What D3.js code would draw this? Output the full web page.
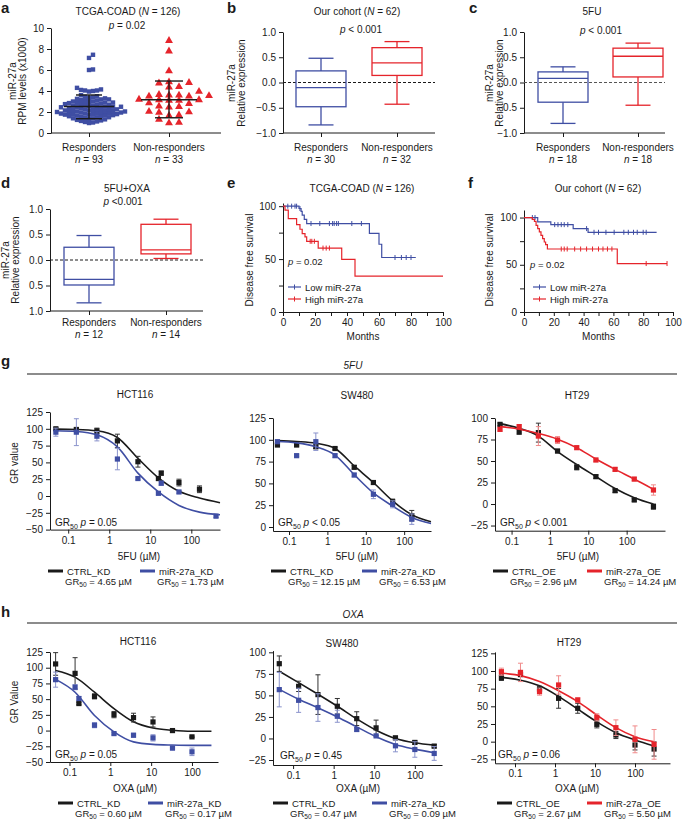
<!DOCTYPE html>
<html>
<head>
<meta charset="utf-8">
<script src="https://cdn.jsdelivr.net/npm/d3@7"></script>
<style>
  body { margin: 0; background: #fff; }
</style>
</head>
<body>
<div id="fig"></div>
<script>
const FONT = "'Liberation Sans', Arial, Helvetica, sans-serif";
const BLUE = "#3f4ea3", RED = "#e5242b", INK = "#1a1a1a";

// ---------- a: TCGA-COAD scatter ----------
const groups = ["Responders", "Non-responders"];
const aResp = [7.45, 7.15, 6.05, 6.0, 4.3, 4.15, 4.1, 4.05, 4.05, 4.0, 3.95,
  3.6, 3.5, 3.45, 3.4, 3.35, 3.3,
  3.25, 3.2, 3.2, 3.15, 3.1, 3.05, 3.0, 3.0, 2.95, 2.9, 2.9, 2.85, 2.85, 2.8,
  2.75, 2.75, 2.7, 2.7, 2.65, 2.6, 2.6, 2.55, 2.5, 2.5, 2.5, 2.45, 2.45, 2.4, 2.4, 2.35, 2.3, 2.3, 2.25, 2.25, 2.2, 2.2,
  2.15, 2.15, 2.1, 2.1, 2.05, 2.05, 2.0, 2.0, 2.0, 1.95, 1.95, 1.9, 1.9, 1.85, 1.85, 1.8, 1.8, 1.8, 1.75, 1.75, 1.7, 1.7,
  1.65, 1.6, 1.6, 1.55, 1.5, 1.5, 1.45, 1.4, 1.4, 1.35, 1.3, 1.25, 1.2, 1.15, 1.1, 1.05, 1.0, 0.95];
const aNonResp = [8.8, 7.8, 5.9, 4.85, 4.8, 4.75, 4.4, 4.35, 3.95, 3.65, 3.6, 3.6, 3.55, 3.5, 3.5,
  3.2, 3.15, 3.15, 3.1, 3.1, 2.85, 2.8, 2.55, 2.5, 2.45, 2.05, 2.0, 1.95, 1.7, 1.65, 1.3, 1.0, 0.95];
const aMean = [2.52, 3.17];
const aSdLow = [1.36, 1.45];
const aSdHigh = [3.62, 4.95];
const aN = [93, 33];

// ---------- b, c, d: box plots [min, q1, median, q3, max] ----------
const bBox = [[-0.84, -0.48, -0.10, 0.23, 0.48], [-0.43, 0.14, 0.39, 0.69, 0.81]];
const bN = [30, 32];
const cBox = [[-0.81, -0.39, 0.08, 0.21, 0.31], [-0.45, 0.11, 0.52, 0.68, 0.78]];
const cN = [18, 18];
const dBox = [[-0.84, -0.49, -0.38, 0.25, 0.48], [0.03, 0.12, 0.20, 0.70, 0.80]];
const dN = [12, 14];

// ---------- e, f: Kaplan-Meier steps [month, survival] + censor months ----------
const eLow = [[0, 100], [10, 97.8], [11.3, 95], [12, 91.5], [13.3, 87.5], [14.8, 83.6], [54, 74.3], [60, 64], [61.7, 51.5], [83, 51.5]];
const eLowCens = [3, 5.4, 7.5, 8.5, 10.6, 17.5, 23, 29, 31, 32, 33.5, 34.6, 43, 49, 70, 74, 77, 80];
const eHigh = [[0, 100], [1.25, 96.2], [3.3, 88.3], [8.5, 82.6], [10.6, 78.2], [12, 74], [13.75, 70.9], [14.8, 66.8], [22, 60.4], [36.7, 49.7], [45, 33.9], [100, 33.9]];
const eHighCens = [17, 18, 19.6, 25, 27, 29];
const fLow = [[0, 100], [9.2, 95.4], [18, 92.5], [33, 88.3], [43, 84.4], [89, 84.4]];
const fLowCens = [5.6, 7.4, 20.6, 22.8, 25, 27, 29.4, 42, 47, 50, 55, 60.5, 67, 70, 73.5, 76, 80, 82];
const fHigh = [[0, 100], [5.6, 98], [7, 96], [8.1, 91.8], [9.2, 88.3], [10.3, 84.8], [11.4, 81.2], [12.5, 77.7], [13.6, 74.1], [14.5, 71.3], [15.7, 66.7], [62.6, 51.3], [96, 51.3]];
const fHighCens = [25, 27, 29, 34, 38, 42, 46, 50, 53, 56, 59, 82, 96];

// ---------- g, h: dose response points [conc, GR, sd] and fitted curve values ----------
const fit5FU = [0.05, 0.158, 0.5, 1.58, 5, 15.8, 50, 158, 500];
const fitOXA = [0.0457, 0.137, 0.41, 1.23, 3.7, 11.1, 33.3, 100, 300];

const gHctCtrl = [[0.05, 100, 2], [0.158, 99, 2], [0.5, 97, 4], [1.58, 82, 10], [5, 51, 8], [15.8, 26, 3], [18.5, 34, 3], [50, 20, 5], [158, 10, 5]];
const gHctKd = [[0.05, 95, 6], [0.158, 95, 20], [0.5, 89, 7], [1.58, 55, 16], [5, 26, 2], [15.8, 4, 2], [18.5, 19, 3], [50, 6, 2], [400, -30, 2]];
const gHctCtrlFit = [99.5, 99, 97, 87, 56, 27, 7, -3, -10];
const gHctKdFit = [97, 96, 91, 73, 34, 6, -14, -24, -28];

const gSwCtrl = [[0.05, 94, 1], [0.158, 94, 1], [0.5, 92, 2], [1.58, 90, 1.5], [5, 68.5, 2], [15.8, 51, 2], [50, 29, 3], [158, 13, 6]];
const gSwKd = [[0.05, 97.8, 2], [0.158, 81.8, 1], [0.5, 97.8, 10], [1.58, 81.8, 2], [5, 59.6, 2], [15.8, 37.5, 5], [50, 26, 4], [158, 9, 6]];
const gSwCtrlFit = [99, 98, 96, 90, 70, 51, 30, 14, 6];
const gSwKdFit = [98, 96.5, 92, 82.5, 60, 39, 24, 11, 4];

const gHtCtrl = [[0.05, 92.6, 1.5], [0.158, 84, 3], [0.5, 83, 11], [1.58, 61.6, 2], [5, 42.7, 3], [15.8, 31.8, 2], [50, 15.5, 2], [158, 4.7, 1.5], [500, -3, 3]];
const gHtOe = [[0.05, 86.8, 2], [0.158, 90, 2], [0.5, 79, 11], [1.58, 74.4, 4], [5, 65.5, 2], [15.8, 51.2, 2], [50, 40.3, 2], [158, 29, 2], [500, 16.3, 6]];
const gHtCtrlFit = [93.5, 88, 79, 61, 46, 32, 18, 7.4, 0];
const gHtOeFit = [90, 87, 82, 75.4, 65.5, 52.3, 40.3, 29, 17];

const hHctCtrl = [[0.0457, 106, 18], [0.137, 91, 25], [0.17, 43, 2], [0.41, 54.4, 4], [1.23, 25.4, 5], [3.7, 20.6, 7], [11.1, 13.7, 8], [33.3, 0, 1], [100, -10, 1]];
const hHctKd = [[0.0457, 81, 12], [0.137, 69, 4], [0.17, 51, 3], [0.41, 8.5, 4], [1.23, -4.8, 2], [3.7, -7.4, 3], [11.1, -11.6, 5], [33.3, -27.5, 4], [100, -33.8, 6]];
const hHctCtrlFit = [95.7, 85, 61, 35, 14, 4, 0.5, -1, -1];
const hHctKdFit = [81.4, 61, 24, -2, -18, -22, -23, -23.5, -23.5];

const hSwCtrl = [[0.0457, 86.8, 9], [0.137, 60.5, 6], [0.41, 50.9, 23], [1.23, 37.4, 9], [3.7, 23, 8], [11.1, 12.3, 9], [33.3, 0.7, 2], [100, -4.6, 2], [300, -8.9, 2]];
const hSwKd = [[0.0457, 56.7, 20], [0.137, 44.3, 14], [0.41, 35.9, 16], [1.23, 25.8, 7], [3.7, 10.4, 2], [11.1, 3, 1], [33.3, -8.5, 7], [100, -12.8, 9], [300, -17.4, 8]];
const hSwCtrlFit = [78, 64.8, 51.3, 37.4, 22.7, 9.6, 0, -5, -7.7];
const hSwKdFit = [57, 45.5, 35.5, 25, 13.5, 1.9, -7, -12.4, -16.6];

const hHtCtrl = [[0.0457, 90.6, 4], [0.137, 95, 3], [0.41, 74.5, 4], [1.23, 61.3, 14], [3.7, 47.2, 7], [11.1, 24.5, 5], [33.3, 9.4, 5], [100, -4.7, 7], [300, -10.4, 10]];
const hHtOe = [[0.0457, 99, 5], [0.137, 98, 13], [0.41, 70.8, 5], [1.23, 80.2, 13], [3.7, 59, 3], [11.1, 34.4, 5], [33.3, 19.8, 11], [100, 3.3, 19], [300, -3.8, 21]];
const hHtCtrlFit = [91, 87, 79, 64, 46, 28, 12.7, 2.4, -6];
const hHtOeFit = [96.7, 93.4, 85, 72, 56.6, 37.7, 19.8, 7, 0];

// ================= drawing =================
const svg = d3.select("#fig").append("svg")
  .attr("width", 685).attr("height", 822)
  .style("font-family", FONT).style("background", "#fff");

function txt(x, y, parts, o = {}) {
  const size = o.size || 10;
  const t = svg.append("text").attr("x", x).attr("y", y)
    .attr("font-size", size).attr("text-anchor", o.anchor || "middle")
    .attr("fill", INK).style("white-space", "pre");
  if (o.bold) t.attr("font-weight", "bold");
  if (o.italic) t.attr("font-style", "italic");
  if (o.rot) t.attr("transform", `rotate(-90 ${x} ${y})`);
  let shift = 0;
  [].concat(parts).forEach(p => {
    if (typeof p === "string") p = { t: p };
    const s = t.append("tspan").text(p.t);
    if (p.i) s.attr("font-style", "italic");
    const want = p.sub ? 2.5 : 0;
    if (want !== shift) { s.attr("dy", want - shift); shift = want; }
    if (p.sub) s.attr("font-size", size * 0.7);
  });
  return t;
}

function styleAxis(g) {
  g.attr("font-family", FONT).attr("font-size", 10);
  g.select(".domain").attr("stroke", INK);
  g.selectAll(".tick line").attr("stroke", INK);
  g.selectAll(".tick text").attr("fill", INK);
}

function yAxis(x, scale, ticks, fmt) {
  svg.append("g").attr("transform", `translate(${x},0)`)
    .call(d3.axisLeft(scale).tickValues(ticks).tickSize(4).tickSizeOuter(0).tickPadding(3).tickFormat(fmt || null))
    .call(styleAxis);
}

function hline(x1, x2, y, o = {}) {
  return svg.append("line").attr("x1", x1).attr("x2", x2).attr("y1", y).attr("y2", y)
    .attr("stroke", o.stroke || INK).attr("stroke-width", o.w || 1)
    .attr("stroke-dasharray", o.dash || null);
}

function catAxis(xAxis0, xAxis1, y, xs) {
  hline(xAxis0, xAxis1, y);
  svg.append("g").attr("transform", `translate(0,${y})`)
    .call(d3.axisBottom(xs).tickSize(4).tickFormat(""))
    .call(g => g.select(".domain").remove())
    .call(styleAxis);
}

function catLabels(xs, y, ns) {
  groups.forEach((gname, i) => {
    txt(xs(gname), y, gname);
    txt(xs(gname), y + 12, [{ t: "n", i: true }, " = " + ns[i]]);
  });
}

// ---- panel letters
[["a", 1, 13], ["b", 227, 13], ["c", 469, 13], ["d", 1, 188], ["e", 227, 188], ["f", 468, 188], ["g", 1, 366], ["h", 1, 617]]
  .forEach(([l, x, y]) => txt(x, y, l, { size: 15, bold: true, anchor: "start" }));

// ---- a
{
  const y = d3.scaleLinear([0, 10], [133, 28]);
  const x = d3.scalePoint(groups, [89, 169]);
  yAxis(51, y, [0, 2, 4, 6, 8, 10]);
  catAxis(51, 221, 133, x);
  catLabels(x, 151, aN);
  txt(128, 15, ["TCGA-COAD (", { t: "N", i: true }, " = 126)"]);
  txt(127, 29, [{ t: "p", i: true }, " = 0.02"]);
  txt(16, 81, "miR-27a", { rot: true });
  txt(26, 81, "RPM levels (x1000)", { rot: true });

  // simple beeswarm: each point slides sideways until it no longer overlaps
  function swarm(vals, cx, dX, dY) {
    const placed = [];
    vals.slice().sort((p, q) => p - q).forEach(v => {
      const yy = y(v);
      for (let k = 0; k < 600; k++) {
        const off = (k % 2 ? 1 : -1) * Math.ceil(k / 2) * 0.5;
        if (!placed.some(p => Math.abs(p.dx - off) < dX && Math.abs(p.y - yy) < dY)) {
          placed.push({ v, y: yy, dx: off }); break;
        }
      }
    });
    return placed.map(p => ({ x: cx + p.dx, y: p.y }));
  }
  const s = 4.4;
  svg.append("g").selectAll("rect").data(swarm(aResp, x(groups[0]), 3.9, 3.9)).join("rect")
    .attr("x", d => d.x - s / 2).attr("y", d => d.y - s / 2).attr("width", s).attr("height", s)
    .attr("fill", BLUE);
  const tri = d3.symbol(d3.symbolTriangle, 27);
  svg.append("g").selectAll("path").data(swarm(aNonResp, x(groups[1]), 10, 5)).join("path")
    .attr("d", tri).attr("transform", d => `translate(${d.x},${d.y})`).attr("fill", RED);

  groups.forEach((gname, i) => {
    const cx = x(gname), mw = i ? 28 : 25, cw = i ? 14 : 13;
    const g = svg.append("g").attr("stroke", INK).attr("stroke-width", 1.4);
    g.append("line").attr("x1", cx).attr("x2", cx).attr("y1", y(aSdLow[i])).attr("y2", y(aSdHigh[i]));
    g.append("line").attr("x1", cx - mw).attr("x2", cx + mw).attr("y1", y(aMean[i])).attr("y2", y(aMean[i]));
    [aSdLow[i], aSdHigh[i]].forEach(v =>
      g.append("line").attr("x1", cx - cw).attr("x2", cx + cw).attr("y1", y(v)).attr("y2", y(v)));
  });
}

// ---- b, c, d box plots
function boxPanel(p) {
  const y = d3.scaleLinear([-1, 1], p.yr);
  const x = d3.scalePoint(groups, p.cats);
  yAxis(p.ax, y, [-1, -0.5, 0, 0.5, 1], p.fmt || d3.format(".1f"));
  catAxis(p.ax, p.axEnd, p.yr[0], x);
  catLabels(x, p.catY, p.ns);
  hline(p.ax, p.axEnd, y(0), { dash: "3,2", stroke: p.dashColor || INK });
  p.stats.forEach((st, i) => {
    const [lo, q1, med, q3, hi] = st, cx = x(groups[i]);
    const g = svg.append("g").attr("stroke", i ? RED : BLUE).attr("fill", "none").attr("stroke-width", 1.3);
    g.append("rect").attr("x", cx - 25).attr("y", y(q3)).attr("width", 50).attr("height", y(q1) - y(q3));
    g.append("line").attr("x1", cx - 25).attr("x2", cx + 25).attr("y1", y(med)).attr("y2", y(med));
    g.append("line").attr("x1", cx).attr("x2", cx).attr("y1", y(hi)).attr("y2", y(q3));
    g.append("line").attr("x1", cx).attr("x2", cx).attr("y1", y(q1)).attr("y2", y(lo));
    [lo, hi].forEach(v => g.append("line").attr("x1", cx - 12.5).attr("x2", cx + 12.5).attr("y1", y(v)).attr("y2", y(v)));
  });
  txt(p.lab[0], p.lab[1], "miR-27a", { rot: true });
  txt(p.lab[0] + 10, p.lab[1], "Relative expression", { rot: true });
}
boxPanel({ stats: bBox, ns: bN, ax: 283, axEnd: 435, cats: [321, 397], yr: [133, 32], catY: 151, lab: [235, 83] });
txt(357, 15, ["Our cohort (", { t: "N", i: true }, " = 62)"]);
txt(361, 33, [{ t: "p", i: true }, " < 0.001"]);
boxPanel({ stats: cBox, ns: cN, ax: 524, axEnd: 665, cats: [563, 638], yr: [133, 32], catY: 151, lab: [493, 83], dashColor: "#555" });
txt(592, 15, "5FU");
txt(601, 34, [{ t: "p", i: true }, " < 0.001"]);
boxPanel({ stats: dBox, ns: dN, ax: 50, axEnd: 203, cats: [89, 166], yr: [311, 209], catY: 326, lab: [9, 260],
  fmt: v => d3.format(".1f")(Math.abs(v)) });
txt(127, 192, "5FU+OXA");
txt(123, 205, [{ t: "p", i: true }, " <0.001"]);

// ---- e, f Kaplan-Meier
function kmPanel(p) {
  const x = d3.scaleLinear([0, 100], p.xr);
  const y = d3.scaleLinear(p.yd, [312, p.yTop]);
  yAxis(p.xr[0], y, [0, 25, 50, 75, 100], v => v % 50 ? "" : v);
  svg.append("g").attr("transform", "translate(0,312)")
    .call(d3.axisBottom(x).tickValues(d3.range(0, 101, 10)).tickSize(4).tickSizeOuter(0).tickPadding(3)
      .tickFormat(v => v % 20 ? "" : v))
    .call(styleAxis);
  txt((p.xr[0] + p.xr[1]) / 2, 340, "Months");
  txt(p.ylab, 260, "Disease free survival", { rot: true });
  const line = d3.line().x(d => x(d[0])).y(d => y(d[1])).curve(d3.curveStepAfter);
  const bis = d3.bisector(d => d[0]).right;
  p.series.forEach(([steps, cens, col]) => {
    svg.append("path").attr("d", line(steps)).attr("fill", "none").attr("stroke", col).attr("stroke-width", 1.2);
    svg.append("g").selectAll("line").data(cens).join("line")
      .attr("x1", m => x(m)).attr("x2", m => x(m))
      .attr("y1", m => y(steps[bis(steps, m) - 1][1]) - 2.5)
      .attr("y2", m => y(steps[bis(steps, m) - 1][1]) + 2.5)
      .attr("stroke", col).attr("stroke-width", 1);
  });
  // legend
  [["Low miR-27a", BLUE, 287], ["High miR-27a", RED, 299]].forEach(([name, col, ly]) => {
    hline(p.leg, p.leg + 13, ly, { stroke: col, w: 1.2 });
    svg.append("line").attr("x1", p.leg + 6.5).attr("x2", p.leg + 6.5).attr("y1", ly - 2.5).attr("y2", ly + 2.5)
      .attr("stroke", col);
    txt(p.leg + 17, ly + 3.5, name, { anchor: "start", size: 9.5 });
  });
  txt(p.pPos[0], p.pPos[1], [{ t: "p", i: true }, " = 0.02"], { anchor: "start", size: 9.5 });
}
kmPanel({ xr: [283, 443], yd: [0, 103], yTop: 203, ylab: 253, leg: 288, pPos: [288, 265],
  series: [[eLow, eLowCens, BLUE], [eHigh, eHighCens, RED]] });
txt(362, 192, ["TCGA-COAD (", { t: "N", i: true }, " = 126)"]);
kmPanel({ xr: [524, 673], yd: [0, 108], yTop: 210, ylab: 493, leg: 533, pPos: [530, 268],
  series: [[fLow, fLowCens, BLUE], [fHigh, fHighCens, RED]] });
txt(598, 192, ["Our cohort (", { t: "N", i: true }, " = 62)"]);

// ---- g, h section headers
hline(27, 677, 374, { w: 1.2 });
txt(353, 369, "5FU", { italic: true });
hline(27, 677, 623, { w: 1.2 });
txt(353, 618, "OXA", { italic: true });

// ---- dose response panels
function drPanel(p) {
  const x = d3.scaleLog(p.xd, [p.x0, p.x1]);
  const y = d3.scaleLinear(p.yd, p.yr);
  yAxis(p.x0, y, p.yTicks, d3.format("d"));
  svg.append("g").attr("transform", `translate(0,${p.yr[0]})`)
    .call(d3.axisBottom(x).tickValues([0.1, 1, 10, 100]).tickFormat(v => String(v))
      .tickSize(4).tickSizeOuter(0).tickPadding(3))
    .call(styleAxis);
  txt(p.title[0], p.title[1], p.name);
  txt(p.xlab[0], p.xlab[1], p.drug + " (µM)");
  if (p.ylab) txt(18, p.ylab, p.ylabText, { rot: true });
  txt(p.pPos[0], p.pPos[1], ["GR", { t: "50", sub: true }, " ", { t: "p", i: true }, p.pText], { anchor: "start" });

  const line = d3.line().x(d => x(d[0])).y(d => y(d[1])).curve(d3.curveMonotoneX);
  p.series.forEach(s => {
    const g = svg.append("g");
    g.append("path").attr("d", line(p.fitX.map((c, i) => [c, s.fit[i]])))
      .attr("fill", "none").attr("stroke", s.color).attr("stroke-width", 1.6);
    const eb = g.append("g").attr("stroke", s.errColor).attr("stroke-width", 1);
    s.pts.forEach(([c, v, e]) => {
      const cx = x(c);
      eb.append("line").attr("x1", cx).attr("x2", cx).attr("y1", y(v - e)).attr("y2", y(v + e));
      [v - e, v + e].forEach(w => eb.append("line").attr("x1", cx - 2.5).attr("x2", cx + 2.5).attr("y1", y(w)).attr("y2", y(w)));
    });
    g.selectAll("rect").data(s.pts).join("rect")
      .attr("x", d => x(d[0]) - 2.6).attr("y", d => y(d[1]) - 2.6).attr("width", 5.2).attr("height", 5.2)
      .attr("fill", s.color);
  });
  // legend
  const [lx1, lx2, ly] = p.leg;
  p.series.forEach((s, i) => {
    const lx = i ? lx2 : lx1;
    hline(lx, lx + 15, ly, { stroke: s.color, w: 3 });
    txt(lx + 19, ly + 3.5, s.name, { anchor: "start", size: 9.5 });
    txt(lx + 17, ly + 13.5, ["GR", { t: "50", sub: true }, " = " + s.gr50 + " µM"], { anchor: "start", size: 9.5 });
  });
}

const BLUE_ERR = "#8a93cc", RED_ERR = "#f08a8a", BLACK_ERR = "#333";
const ctrl = (name, pts, fit, gr50) => ({ name, pts, fit, gr50, color: INK, errColor: BLACK_ERR });
const kd = (name, pts, fit, gr50) => ({ name, pts, fit, gr50, color: BLUE, errColor: BLUE_ERR });
const oe = (name, pts, fit, gr50) => ({ name, pts, fit, gr50, color: RED, errColor: RED_ERR });

// g row (5FU)
drPanel({ name: "HCT116", drug: "5FU", x0: 50, x1: 220, xd: [0.036, 500], yd: [-50, 125], yr: [529.6, 412],
  yTicks: [-50, -25, 0, 25, 50, 75, 100, 125], title: [135, 398], xlab: [139, 560],
  ylab: 463, ylabText: "GR value", pPos: [55, 526], pText: " = 0.05", fitX: fit5FU, leg: [48, 140, 571],
  series: [ctrl("CTRL_KD", gHctCtrl, gHctCtrlFit, "4.65"), kd("miR-27a_KD", gHctKd, gHctKdFit, "1.73")] });
drPanel({ name: "SW480", drug: "5FU", x0: 273, x1: 431, xd: [0.0383, 500], yd: [-4.6, 125], yr: [531, 418],
  yTicks: [0, 25, 50, 75, 100, 125], title: [357, 399], xlab: [357, 560],
  pPos: [278, 526], pText: " < 0.05", fitX: fit5FU, leg: [271, 362, 571],
  series: [ctrl("CTRL_KD", gSwCtrl, gSwCtrlFit, "12.15"), kd("miR-27a_KD", gSwKd, gSwKdFit, "6.53")] });
drPanel({ name: "HT29", drug: "5FU", x0: 495, x1: 665, xd: [0.037, 1000], yd: [-31, 100], yr: [530.7, 418],
  yTicks: [-25, 0, 25, 50, 75, 100], title: [577, 399], xlab: [578, 560],
  pPos: [500, 526], pText: " < 0.001", fitX: fit5FU, leg: [493, 587, 571],
  series: [ctrl("CTRL_OE", gHtCtrl, gHtCtrlFit, "2.96"), oe("miR-27a_OE", gHtOe, gHtOeFit, "14.24")] });

// h row (OXA)
drPanel({ name: "HCT116", drug: "OXA", x0: 50, x1: 218, xd: [0.0333, 434], yd: [-50, 125], yr: [762, 652],
  yTicks: [-50, -25, 0, 25, 50, 75, 100, 125], title: [138, 645], xlab: [135, 792],
  ylab: 702, ylabText: "GR Value", pPos: [55, 758], pText: " = 0.05", fitX: fitOXA, leg: [58, 148, 803],
  series: [ctrl("CTRL_KD", hHctCtrl, hHctCtrlFit, "0.60"), kd("miR-27a_KD", hHctKd, hHctKdFit, "0.17")] });
drPanel({ name: "SW480", drug: "OXA", x0: 273, x1: 442, xd: [0.032, 467], yd: [-30.8, 102], yr: [765, 650.6],
  yTicks: [-25, 0, 25, 50, 75, 100], title: [342, 647], xlab: [358, 792],
  pPos: [280, 759], pText: " = 0.45", fitX: fitOXA, leg: [273, 372, 803],
  series: [ctrl("CTRL_KD", hSwCtrl, hSwCtrlFit, "0.47"), kd("miR-27a_KD", hSwKd, hSwKdFit, "0.09")] });
drPanel({ name: "HT29", drug: "OXA", x0: 495, x1: 670, xd: [0.0316, 750], yd: [-30.6, 127], yr: [763.3, 651.9],
  yTicks: [-25, 0, 25, 50, 75, 100, 125], title: [569, 646], xlab: [577, 792],
  pPos: [498, 758], pText: " = 0.06", fitX: fitOXA, leg: [497, 587, 803],
  series: [ctrl("CTRL_OE", hHtCtrl, hHtCtrlFit, "2.67"), oe("miR-27a_OE", hHtOe, hHtOeFit, "5.50")] });
</script>
</body>
</html>
